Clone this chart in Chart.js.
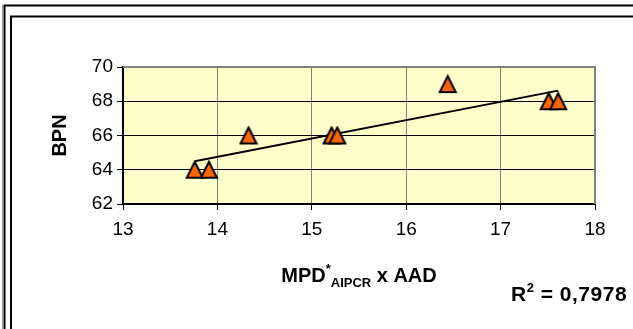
<!DOCTYPE html>
<html>
<head>
<meta charset="utf-8">
<script src="https://cdn.jsdelivr.net/npm/chart.js@4"></script>
<style>
  html, body { margin: 0; padding: 0; background: #fff; }
  #wrap { width: 633px; height: 329px; }
</style>
</head>
<body>
<div id="wrap"><canvas id="chart" width="633" height="329"></canvas></div>
<script>
// values
const mpdAad = [13.76, 13.91, 14.33, 15.21, 15.27, 16.44, 17.51, 17.61];
const bpn    = [64, 64, 66, 66, 66, 69, 68, 68];
const trendX = [13.76, 17.61];
const trendY = [64.5, 68.62];
const xTicks = [13, 14, 15, 16, 17, 18];
const yTicks = [62, 64, 66, 68, 70];
const rSquared = '0,7978';

const FONT = '"Liberation Sans", Arial, sans-serif';

// triangle marker like the excel one
function makeTriangle() {
    const c = document.createElement('canvas');
    c.width = 20;
    c.height = 20;
    const g = c.getContext('2d');
    g.beginPath();
    g.moveTo(10, 2);
    g.lineTo(18, 18);
    g.lineTo(2, 18);
    g.closePath();
    g.fillStyle = '#FF6600';
    g.fill();
    g.lineWidth = 2;
    g.lineJoin = 'miter';
    g.strokeStyle = '#000';
    g.stroke();
    return c;
}

const framePlugin = {
    id: 'frame',
    beforeDraw(chart) {
        const ctx = chart.ctx;
        const a = chart.chartArea;
        ctx.save();
        ctx.fillStyle = '#FFFFCC';
        ctx.fillRect(a.left, a.top, a.right - a.left, a.bottom - a.top);
        ctx.restore();
    },
    afterDraw(chart) {
        const ctx = chart.ctx;
        const a = chart.chartArea;
        ctx.save();
        // plot area border top / right
        ctx.strokeStyle = '#808080';
        ctx.lineWidth = 2;
        ctx.beginPath();
        ctx.moveTo(a.left, a.top);
        ctx.lineTo(a.right, a.top);
        ctx.lineTo(a.right, a.bottom);
        ctx.stroke();

        // outer frames
        ctx.strokeStyle = '#000';
        ctx.lineWidth = 2;
        ctx.beginPath();
        ctx.moveTo(4.5, 329);
        ctx.lineTo(4.5, 5.5);
        ctx.lineTo(633, 5.5);
        ctx.stroke();
        ctx.beginPath();
        ctx.moveTo(11, 329);
        ctx.lineTo(11, 16.5);
        ctx.lineTo(633, 16.5);
        ctx.stroke();
        ctx.strokeStyle = '#999';
        ctx.lineWidth = 1;
        ctx.beginPath();
        ctx.moveTo(2.5, 329);
        ctx.lineTo(2.5, 5);
        ctx.stroke();

        ctx.fillStyle = '#000';
        ctx.textBaseline = 'alphabetic';

        // x axis title with super / subscript
        const big = 'bold 20px ' + FONT;
        const small = 'bold 13px ' + FONT;
        const parts = [
            { t: 'MPD', f: big, dy: 0 },
            { t: '*', f: small, dy: -9 },
            { t: 'AIPCR', f: small, dy: 5 },
            { t: ' x AAD', f: big, dy: 0 }
        ];
        let w = 0;
        parts.forEach(p => { ctx.font = p.f; p.w = ctx.measureText(p.t).width; w += p.w; });
        let x = (a.left + a.right) / 2 - w / 2;
        const base = 282;
        parts.forEach(p => {
            ctx.font = p.f;
            ctx.fillText(p.t, x, base + p.dy);
            x += p.w;
        });

        // R squared
        const rParts = [
            { t: 'R', f: 'bold 21px ' + FONT, dy: 0 },
            { t: '2', f: small, dy: -9 },
            { t: ' = ' + rSquared, f: 'bold 21px ' + FONT, dy: 0 }
        ];
        ctx.letterSpacing = '0.5px';
        x = 511;
        rParts.forEach(p => {
            ctx.font = p.f;
            ctx.fillText(p.t, x, 301 + p.dy);
            x += ctx.measureText(p.t).width;
        });
        ctx.letterSpacing = '0px';

        // y axis title
        ctx.font = big;
        ctx.translate(66, (a.top + a.bottom) / 2);
        ctx.rotate(-Math.PI / 2);
        ctx.textAlign = 'center';
        ctx.fillText('BPN', 0, 0);
        ctx.restore();
    }
};

const ctx = document.getElementById('chart').getContext('2d');
const chart = new Chart(ctx, {
    type: 'scatter',
    data: {
        datasets: [{
            label: 'BPN',
            data: mpdAad.map((v, i) => ({ x: v, y: bpn[i] })),
            pointStyle: makeTriangle(),
            pointRadius: 9,
            order: 1
        }, {
            label: 'trend',
            type: 'line',
            data: trendX.map((v, i) => ({ x: v, y: trendY[i] })),
            borderColor: '#000',
            borderWidth: 2,
            pointRadius: 0,
            fill: false,
            order: 2
        }]
    },
    options: {
        responsive: false,
        animation: false,
        events: [],
        layout: { padding: { left: 0, right: 38, top: 67, bottom: 0 } },
        plugins: {
            legend: { display: false },
            tooltip: { enabled: false }
        },
        scales: {
            x: {
                type: 'linear',
                min: 13,
                max: 18,
                afterFit: s => { s.height = 125; },
                afterBuildTicks: s => { s.ticks = xTicks.map(v => ({ value: v })); },
                grid: { color: '#808080', lineWidth: 1, tickColor: '#000', tickLength: 6 },
                border: { color: '#000', width: 2 },
                ticks: { color: '#000', font: { family: FONT, size: 19 }, padding: 8 }
            },
            y: {
                min: 62,
                max: 70,
                afterFit: s => { s.width = 123; },
                afterBuildTicks: s => { s.ticks = yTicks.map(v => ({ value: v })); },
                grid: { color: '#000', lineWidth: 1, tickColor: '#000', tickLength: 6 },
                border: { color: '#000', width: 2 },
                ticks: { color: '#000', font: { family: FONT, size: 19 }, padding: 4 }
            }
        }
    },
    plugins: [framePlugin]
});
</script>
</body>
</html>
